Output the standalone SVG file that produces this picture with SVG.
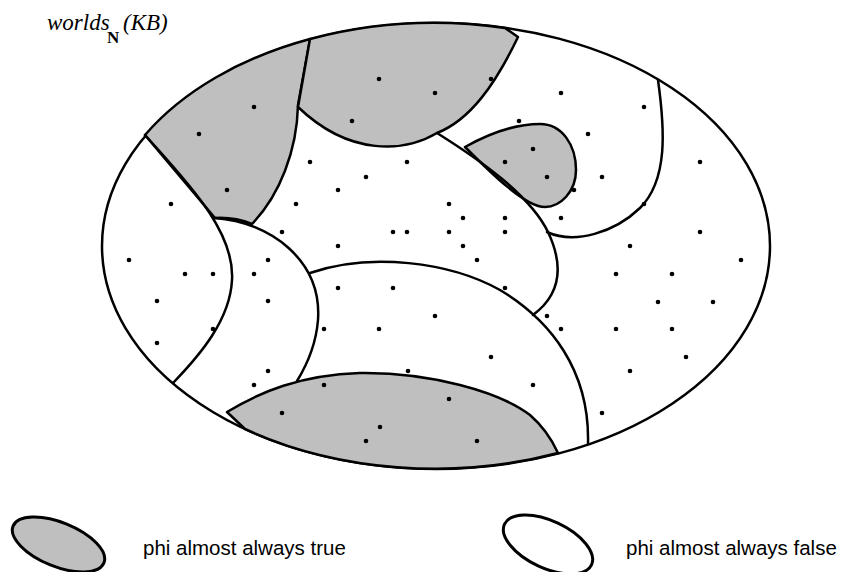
<svg xmlns="http://www.w3.org/2000/svg" width="845" height="572" viewBox="0 0 845 572">
<style>
.ln{fill:none;stroke:#000;stroke-width:2.5;stroke-linejoin:round;stroke-linecap:round}
.sh{fill:#bfbfbf;stroke:#000;stroke-width:2.5;stroke-linejoin:round}
.wh{fill:#fff;stroke:#000;stroke-width:2.5}
.dt{fill:#000}
.ti{font-family:"Liberation Serif","Times New Roman",serif;font-style:italic;font-size:23px}
.lg{font-family:"Liberation Sans",Arial,sans-serif;font-size:20.5px}
</style>
<rect width="845" height="572" fill="#fff"/>
<g id="title">
<text class="ti" x="47" y="30">worlds</text>
<text x="107" y="43" font-family="Liberation Serif,'Times New Roman',serif" font-weight="bold" font-size="17">N</text>
<text class="ti" x="123" y="30">(KB)</text>
</g>
<g id="worlds-outline">
<ellipse class="wh" cx="436" cy="246" rx="334" ry="223"/>
</g>
<g id="regions-true">
<path id="regionA" class="sh" d="M145,135 A334,223 0 0 1 310,39 L298,105 C297,150 280,195 252,224 Q235,217 215,218 L145,135 Z"/>
<path id="regionB" class="sh" d="M310,39 A334,223 0 0 1 505,28 L518,37 C495,85 470,120 437,133 C405,152 350,157 298,107 Z"/>
<path id="regionF" class="sh" d="M465,147 C490,133 515,124 540,124 C562,124 576,145 576,170 C576,192 560,207 545,207 C525,207 490,172 465,147 Z"/>
<path id="regionE" class="sh" d="M227,412 C260,392 300,375 360,373 C430,372 500,392 530,415 C545,428 552,440 558,453 A334,223 0 0 1 245,429 Z"/>
</g>
<g id="boundaries">
<path class="ln" d="M145,135 C185,180 235,230 232,280 C230,320 200,355 173,383"/>
<path class="ln" d="M215,218 C270,222 322,260 318,320 C316,345 305,368 297,381"/>
<path class="ln" d="M437,133 C480,160 530,195 548,232 C565,268 560,295 533,315"/>
<path class="ln" d="M658,80 C665,130 668,180 640,208 C615,232 575,245 547,232"/>
<path class="ln" d="M310,273 C370,252 450,262 500,290 C550,320 590,370 588,444"/>
</g>
<g id="worlds-dots">
<circle class="dt" cx="254" cy="107" r="2.3"/><circle class="dt" cx="199" cy="134" r="2.3"/><circle class="dt" cx="227" cy="190" r="2.3"/>
<circle class="dt" cx="379" cy="79" r="2.3"/><circle class="dt" cx="435" cy="93" r="2.3"/><circle class="dt" cx="352" cy="121" r="2.3"/><circle class="dt" cx="491" cy="79" r="2.3"/>
<circle class="dt" cx="533" cy="149" r="2.3"/><circle class="dt" cx="505" cy="162" r="2.3"/><circle class="dt" cx="547" cy="177" r="2.3"/><circle class="dt" cx="574" cy="190" r="2.3"/>
<circle class="dt" cx="561" cy="93" r="2.3"/><circle class="dt" cx="519" cy="121" r="2.3"/><circle class="dt" cx="644" cy="107" r="2.3"/><circle class="dt" cx="588" cy="134" r="2.3"/><circle class="dt" cx="602" cy="177" r="2.3"/><circle class="dt" cx="644" cy="204" r="2.3"/><circle class="dt" cx="561" cy="218" r="2.3"/><circle class="dt" cx="700" cy="162" r="2.3"/>
<circle class="dt" cx="171" cy="204" r="2.3"/><circle class="dt" cx="129" cy="260" r="2.3"/><circle class="dt" cx="185" cy="274" r="2.3"/><circle class="dt" cx="213" cy="274" r="2.3"/><circle class="dt" cx="157" cy="301" r="2.3"/><circle class="dt" cx="213" cy="329" r="2.3"/><circle class="dt" cx="157" cy="343" r="2.3"/>
<circle class="dt" cx="296" cy="204" r="2.3"/><circle class="dt" cx="282" cy="232" r="2.3"/><circle class="dt" cx="310" cy="162" r="2.3"/><circle class="dt" cx="407" cy="162" r="2.3"/><circle class="dt" cx="366" cy="177" r="2.3"/><circle class="dt" cx="338" cy="190" r="2.3"/><circle class="dt" cx="449" cy="204" r="2.3"/><circle class="dt" cx="463" cy="218" r="2.3"/><circle class="dt" cx="505" cy="218" r="2.3"/><circle class="dt" cx="393" cy="232" r="2.3"/><circle class="dt" cx="407" cy="232" r="2.3"/><circle class="dt" cx="449" cy="232" r="2.3"/><circle class="dt" cx="505" cy="232" r="2.3"/><circle class="dt" cx="338" cy="246" r="2.3"/><circle class="dt" cx="463" cy="246" r="2.3"/><circle class="dt" cx="477" cy="260" r="2.3"/>
<circle class="dt" cx="268" cy="260" r="2.3"/><circle class="dt" cx="254" cy="274" r="2.3"/><circle class="dt" cx="268" cy="301" r="2.3"/><circle class="dt" cx="268" cy="371" r="2.3"/><circle class="dt" cx="254" cy="385" r="2.3"/>
<circle class="dt" cx="338" cy="288" r="2.3"/><circle class="dt" cx="393" cy="288" r="2.3"/><circle class="dt" cx="505" cy="288" r="2.3"/><circle class="dt" cx="324" cy="329" r="2.3"/><circle class="dt" cx="379" cy="329" r="2.3"/><circle class="dt" cx="435" cy="316" r="2.3"/><circle class="dt" cx="491" cy="357" r="2.3"/><circle class="dt" cx="324" cy="385" r="2.3"/><circle class="dt" cx="408" cy="371" r="2.3"/><circle class="dt" cx="533" cy="385" r="2.3"/>
<circle class="dt" cx="282" cy="413" r="2.3"/><circle class="dt" cx="449" cy="399" r="2.3"/><circle class="dt" cx="380" cy="427" r="2.3"/><circle class="dt" cx="366" cy="441" r="2.3"/><circle class="dt" cx="477" cy="441" r="2.3"/>
<circle class="dt" cx="700" cy="232" r="2.3"/><circle class="dt" cx="630" cy="246" r="2.3"/><circle class="dt" cx="741" cy="260" r="2.3"/><circle class="dt" cx="616" cy="274" r="2.3"/><circle class="dt" cx="672" cy="274" r="2.3"/><circle class="dt" cx="658" cy="302" r="2.3"/><circle class="dt" cx="713" cy="302" r="2.3"/><circle class="dt" cx="547" cy="316" r="2.3"/><circle class="dt" cx="561" cy="329" r="2.3"/><circle class="dt" cx="616" cy="329" r="2.3"/><circle class="dt" cx="672" cy="329" r="2.3"/><circle class="dt" cx="686" cy="357" r="2.3"/><circle class="dt" cx="630" cy="371" r="2.3"/><circle class="dt" cx="602" cy="413" r="2.3"/>
</g>
<g id="legend-true">
<ellipse cx="58.5" cy="544.5" rx="49" ry="22" transform="rotate(22 58.5 544.5)" fill="#bfbfbf" stroke="#000" stroke-width="3"/>
<text class="lg" x="143" y="555">phi almost always true</text>
</g>
<g id="legend-false">
<ellipse cx="548" cy="544.5" rx="48" ry="23.5" transform="rotate(25 548 544.5)" fill="#fff" stroke="#000" stroke-width="3"/>
<text class="lg" x="626" y="555">phi almost always false</text>
</g>
</svg>
